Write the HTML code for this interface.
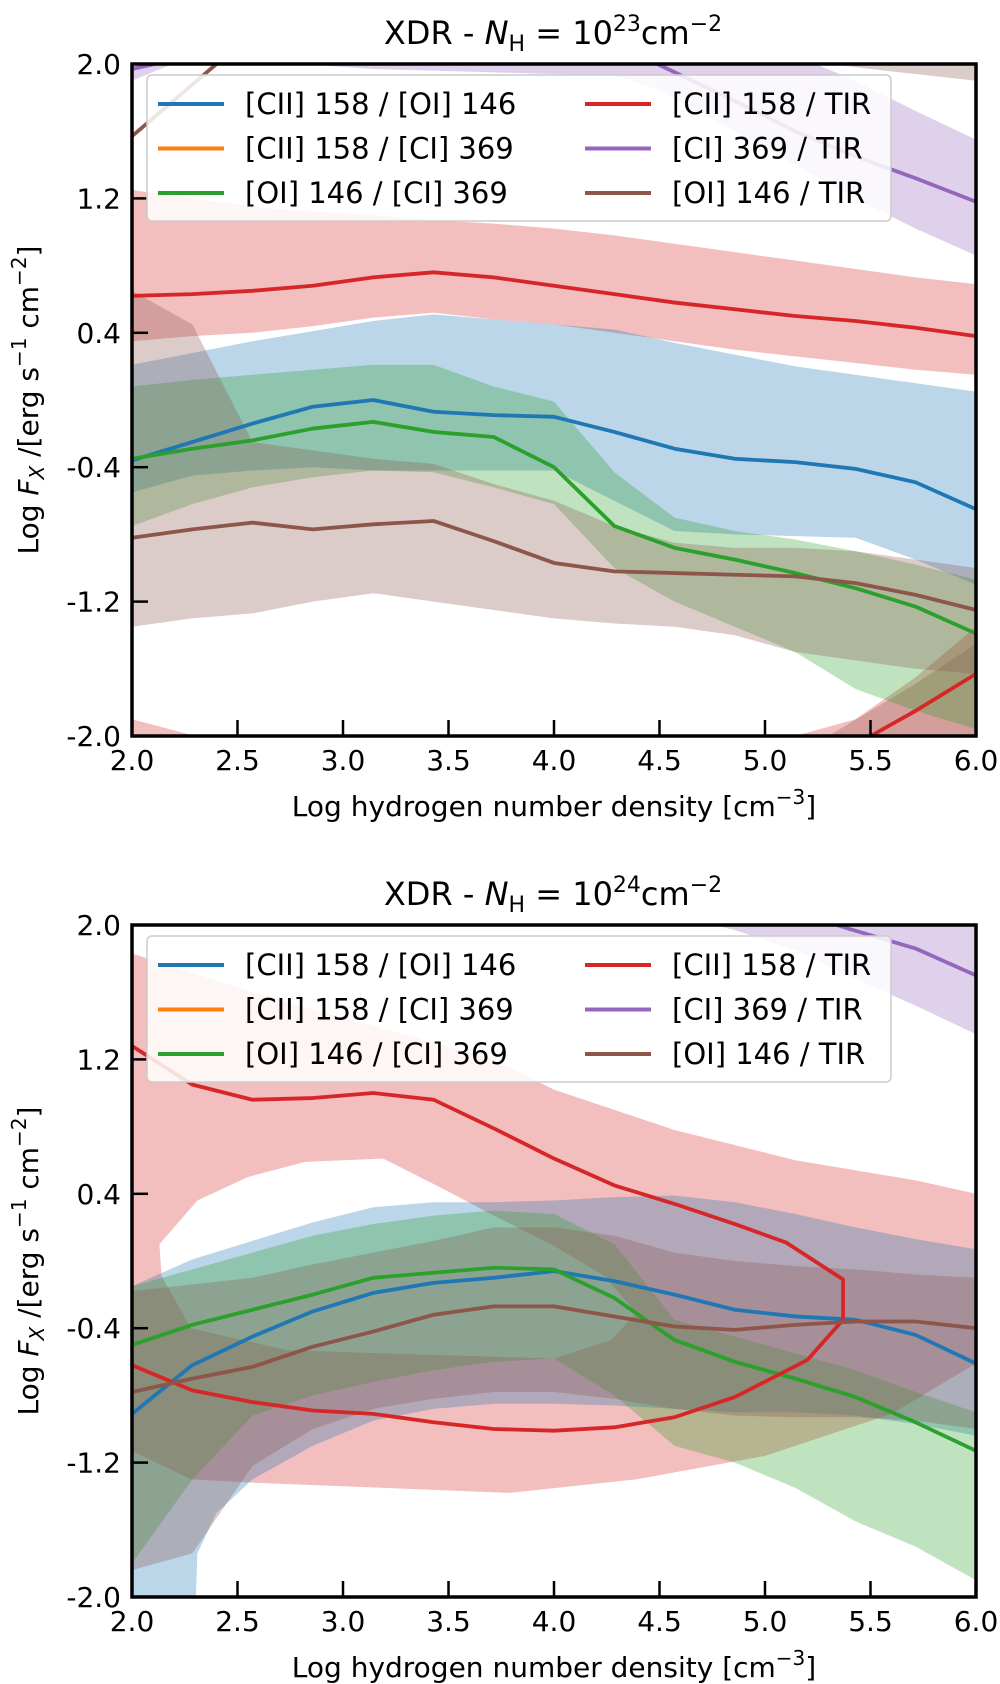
<!DOCTYPE html>
<html><head><meta charset="utf-8">
<style>
body{margin:0;background:#fff;}
svg{display:block;font-family:"DejaVu Sans","Liberation Sans",sans-serif;}
</style></head>
<body>
<svg id="fig" width="1000" height="1684" viewBox="0 0 1000 1684" xmlns="http://www.w3.org/2000/svg"></svg>
<script>
// ---------- shared data ----------
const xGrid = [2.0,2.286,2.571,2.857,3.143,3.429,3.714,4.0,4.286,4.571,4.857,5.143,5.429,5.714,6.0];
const xTicks = [2.0,2.5,3.0,3.5,4.0,4.5,5.0,5.5,6.0];
const xTickLabels = ["2.0","2.5","3.0","3.5","4.0","4.5","5.0","5.5","6.0"];
const yTicks = [2.0,1.2,0.4,-0.4,-1.2,-2.0];
const yTickLabels = ["2.0","1.2","0.4","-0.4","-1.2","-2.0"];

// ---------- panel 1 (N_H = 1e23) ----------
const p1RedLine = [0.62,0.63,0.65,0.68,0.73,0.76,0.73,0.68,0.63,0.58,0.54,0.50,0.47,0.43,0.38];
const p1RedUp   = [1.25,1.20,1.15,1.12,1.10,1.07,1.05,1.02,0.98,0.93,0.88,0.83,0.78,0.73,0.69];
const p1RedLo   = [0.35,0.38,0.40,0.44,0.49,0.52,0.48,0.45,0.40,0.35,0.30,0.26,0.22,0.18,0.15];
const p1BlueLine= [-0.36,-0.25,-0.14,-0.04,0.00,-0.07,-0.09,-0.10,-0.19,-0.29,-0.35,-0.37,-0.41,-0.49,-0.65];
const p1BlueUp  = [0.21,0.28,0.35,0.41,0.47,0.51,0.48,0.45,0.42,0.34,0.27,0.20,0.15,0.10,0.05];
const p1BlueLo  = [-0.55,-0.45,-0.42,-0.40,-0.42,-0.42,-0.42,-0.42,-0.60,-0.78,-0.80,-0.81,-0.82,-0.95,-1.10];
const p1GreenLine=[-0.35,-0.29,-0.24,-0.17,-0.13,-0.19,-0.22,-0.40,-0.75,-0.88,-0.95,-1.03,-1.12,-1.23,-1.39];
const p1GreenUp = [0.08,0.12,0.15,0.18,0.21,0.21,0.08,-0.01,-0.43,-0.70,-0.78,-0.83,-0.90,-0.98,-1.07];
const p1GreenLo = [-0.75,-0.62,-0.52,-0.46,-0.42,-0.43,-0.52,-0.62,-1.00,-1.20,-1.35,-1.50,-1.72,-1.85,-1.96];
const p1BrownLine=[-0.82,-0.77,-0.73,-0.77,-0.74,-0.72,-0.84,-0.97,-1.02,-1.03,-1.04,-1.05,-1.09,-1.16,-1.25];
const p1BrownUp = [0.65,0.45,-0.25,-0.30,-0.35,-0.38,-0.50,-0.60,-0.75,-0.85,-0.88,-0.88,-0.90,-0.95,-1.00];
const p1BrownLo = [-1.35,-1.30,-1.27,-1.20,-1.15,-1.20,-1.25,-1.30,-1.33,-1.35,-1.40,-1.50,-1.55,-1.60,-1.63];
const p1PurpleX = [2.0,2.286,2.571,3.143,3.714,4.286,4.49,4.857,5.143,5.429,5.714,6.0];
const p1PurpleLine=[1.97,2.05,2.2,2.4,2.3,2.1,2.0,1.78,1.60,1.45,1.32,1.18];
const p1PurpleUp= [2.3,2.3,2.3,2.3,2.3,2.3,2.3,2.2,2.05,1.9,1.72,1.55];
const p1PurpleLo= [1.9,2.05,2.02,1.97,1.95,1.93,1.85,1.60,1.40,1.20,1.02,0.86];
const p1Brown2X = [2.0,2.4];
const p1Brown2Line = [1.57,2.0];
const p1Brown2BandX = [5.0,5.5,6.0];
const p1Brown2Up = [2.2,2.1,2.1];
const p1Brown2Lo = [2.05,1.97,1.90];
const p1Red2X   = [5.43,5.714,6.0];
const p1Red2Line= [-2.05,-1.85,-1.63];
const p1Red2BandX=[5.143,5.429,5.714,6.0];
const p1Red2Up  = [-2.0,-1.9,-1.65,-1.35];
const p1Red2Lo  = [-2.1,-2.1,-2.1,-2.1];
const p1RedCornerX=[2.0,2.3];
const p1RedCornerUp=[-1.9,-2.0];
const p1RedCornerLo=[-2.1,-2.1];
const p1BrownCornerX=[5.3,5.7,6.0];
const p1BrownCornerUp=[-2.0,-1.7,-1.45];
const p1BrownCornerLo=[-2.1,-2.1,-2.0];

// ---------- panel 2 (N_H = 1e24) ----------
const p2BlueLine= [-0.91,-0.62,-0.45,-0.30,-0.19,-0.13,-0.10,-0.06,-0.12,-0.20,-0.29,-0.33,-0.35,-0.44,-0.61];
const p2BlueUp  = [-0.15,0.01,0.12,0.23,0.32,0.35,0.35,0.36,0.38,0.39,0.35,0.28,0.20,0.13,0.07];
const p2BlueLoX = [2.0,2.3,2.31,2.4,2.571,2.857,3.143,3.429,3.714,4.0,4.286,4.571,4.857,5.143,5.429,5.714,6.0];
const p2BlueLo  = [-2.1,-2.1,-1.74,-1.5,-1.3,-1.1,-0.95,-0.88,-0.85,-0.85,-0.86,-0.88,-0.9,-0.9,-0.92,-0.97,-1.04];
const p2GreenLine=[-0.50,-0.38,-0.29,-0.20,-0.10,-0.07,-0.04,-0.05,-0.22,-0.47,-0.60,-0.70,-0.81,-0.96,-1.13];
const p2GreenUp = [-0.15,-0.05,0.05,0.15,0.22,0.27,0.30,0.28,0.10,-0.35,-0.45,-0.55,-0.65,-0.78,-0.90];
const p2GreenLo = [-1.80,-1.30,-0.92,-0.80,-0.72,-0.65,-0.60,-0.58,-0.80,-1.10,-1.20,-1.35,-1.55,-1.70,-1.90];
const p2BrownLine=[-0.78,-0.70,-0.63,-0.51,-0.42,-0.32,-0.27,-0.27,-0.33,-0.39,-0.41,-0.38,-0.36,-0.36,-0.40];
const p2BrownUp = [-0.18,-0.14,-0.10,-0.02,0.05,0.12,0.20,0.20,0.15,0.05,0.00,-0.03,-0.05,-0.08,-0.10];
const p2BrownLo = [-1.84,-1.74,-1.22,-1.00,-0.88,-0.82,-0.78,-0.78,-0.82,-0.88,-0.92,-0.93,-0.93,-0.95,-1.00];
const p2RedLoopX = [2.0,2.286,2.571,2.857,3.143,3.429,3.714,4.0,4.286,4.571,4.857,5.1,5.37,5.37,5.2,4.857,4.571,4.286,4.0,3.714,3.429,3.143,2.857,2.571,2.286,2.0];
const p2RedLoopY = [1.28,1.05,0.96,0.97,1.00,0.96,0.79,0.61,0.45,0.34,0.22,0.11,-0.11,-0.35,-0.59,-0.81,-0.93,-0.99,-1.01,-1.00,-0.96,-0.91,-0.89,-0.84,-0.77,-0.62];
const p2RedOuterX = [2.0,2.571,3.143,3.714,4.0,4.571,5.143,5.714,6.0,6.0,5.6,5.0,4.39,3.79,3.18,2.58,2.28,2.0];
const p2RedOuterY = [1.83,1.60,1.40,1.20,1.02,0.78,0.60,0.48,0.40,-0.61,-0.91,-1.16,-1.30,-1.38,-1.35,-1.32,-1.30,-1.13];
const p2RedHoleX = [2.13,2.31,2.55,2.82,3.19,3.49,3.70,4.0,4.24,4.39,4.27,4.0,3.19,2.73,2.28,2.14];
const p2RedHoleY = [0.10,0.36,0.50,0.59,0.61,0.42,0.28,0.09,-0.09,-0.31,-0.47,-0.58,-0.55,-0.53,-0.40,-0.09];
const p2PurpleX = [4.6,4.857,5.143,5.39,5.714,6.0];
const p2PurpleLine=[2.3,2.2,2.08,1.98,1.86,1.70];
const p2PurpleUp= [2.3,2.3,2.3,2.3,2.3,2.3];
const p2PurpleLo= [2.05,1.97,1.85,1.70,1.52,1.35];

const C = {blue:"#1f77b4",orange:"#ff7f0e",green:"#2ca02c",red:"#d62728",purple:"#9467bd",brown:"#8c564b"};
const NS="http://www.w3.org/2000/svg";
const svg=document.getElementById('fig');
function mk(tag,parent){const e=document.createElementNS(NS,tag);parent.appendChild(e);return e;}

function panel(opts){
  const L=132,R=976,T=opts.top,B=opts.top+672;
  const sx=v=>L+(v-2)/4*(R-L);
  const sy=v=>T+(2-v)/4*(B-T);
  const g=mk('g',svg);
  
  
  const cid='clip'+opts.name;
  const cp=mk('clipPath',g);cp.setAttribute('id',cid);
  const cr=mk('rect',cp);cr.setAttribute('x',L);cr.setAttribute('y',T);cr.setAttribute('width',R-L);cr.setAttribute('height',B-T);
  const plot=mk('g',g);plot.setAttribute('clip-path','url(#'+cid+')');
  
  
  function band(xs,up,lo,color,name,xsLo){
    const xl=xsLo||xs;
    let d='M'+xs.map((x,i)=>sx(x)+','+sy(up[i])).join('L');
    for(let i=xl.length-1;i>=0;i--) d+='L'+sx(xl[i])+','+sy(lo[i]);
    const p=mk('path',plot);p.setAttribute('d',d+'Z');p.setAttribute('fill',color);p.setAttribute('fill-opacity','0.3');
    
    
  }
  function poly(xs,ys,color,name){
    const p=mk('path',plot);
    p.setAttribute('d','M'+xs.map((x,i)=>sx(x)+','+sy(ys[i])).join('L'));
    p.setAttribute('fill','none');p.setAttribute('stroke',color);p.setAttribute('stroke-width','3.8');p.setAttribute('stroke-linejoin','round');
    
    
  }
  opts.draw(band,poly,sx,sy,plot);
  const fr=mk('rect',g);fr.setAttribute('x',L);fr.setAttribute('y',T);fr.setAttribute('width',R-L);fr.setAttribute('height',B-T);
  fr.setAttribute('fill','none');fr.setAttribute('stroke','#000');fr.setAttribute('stroke-width','3.5');
  
  
  xTicks.forEach((v,i)=>{
    const t=mk('line',g);t.setAttribute('x1',sx(v));t.setAttribute('x2',sx(v));t.setAttribute('y1',B);t.setAttribute('y2',B-16);
    t.setAttribute('stroke','#000');t.setAttribute('stroke-width','2.5');
    
    
    const tx=mk('text',g);tx.setAttribute('x',sx(v));tx.setAttribute('y',B+34);tx.setAttribute('text-anchor','middle');tx.setAttribute('font-size','28');
    tx.textContent=xTickLabels[i];
    
    
  });
  yTicks.forEach((v,i)=>{
    const t=mk('line',g);t.setAttribute('x1',L);t.setAttribute('x2',L+16);t.setAttribute('y1',sy(v));t.setAttribute('y2',sy(v));
    t.setAttribute('stroke','#000');t.setAttribute('stroke-width','2.5');
    
    
    const tx=mk('text',g);tx.setAttribute('x',L-11);tx.setAttribute('y',sy(v)+10);tx.setAttribute('text-anchor','end');tx.setAttribute('font-size','28');
    tx.textContent=yTickLabels[i];
    
    
  });
  const ti=mk('text',g);ti.setAttribute('x',553);ti.setAttribute('y',T-20);ti.setAttribute('text-anchor','middle');ti.setAttribute('font-size','32');
  ti.innerHTML='XDR -  <tspan font-style="italic">N</tspan><tspan font-size="22" dy="7">H</tspan><tspan dy="-7"> = 10</tspan><tspan font-size="22" dy="-13">'+opts.exp+'</tspan><tspan dy="13">cm</tspan><tspan font-size="22" dy="-13">−2</tspan>';
  
  
  const xl=mk('text',g);xl.setAttribute('x',554);xl.setAttribute('y',B+80);xl.setAttribute('text-anchor','middle');xl.setAttribute('font-size','28');
  xl.innerHTML='Log hydrogen number density [cm<tspan font-size="20" dy="-12">−3</tspan><tspan dy="12">]</tspan>';
  
  
  const yl=mk('text',g);yl.setAttribute('transform','translate(38,'+(T+336)+') rotate(-90)');yl.setAttribute('text-anchor','middle');yl.setAttribute('font-size','28');
  yl.innerHTML='Log <tspan font-style="italic">F</tspan><tspan font-size="20" font-style="italic" dy="6">X</tspan><tspan dy="-6"> /[erg s</tspan><tspan font-size="20" dy="-12">−1</tspan><tspan dy="12"> cm</tspan><tspan font-size="20" dy="-12">−2</tspan><tspan dy="12">]</tspan>';
  
  
  const lg=mk('g',g);
  
  
  const ly=T+11;
  const lb=mk('rect',lg);lb.setAttribute('x',147);lb.setAttribute('y',ly);lb.setAttribute('width',744);lb.setAttribute('height',146);lb.setAttribute('rx','5');
  lb.setAttribute('fill','#fff');lb.setAttribute('fill-opacity','0.85');lb.setAttribute('stroke','#ccc');lb.setAttribute('stroke-width','1.5');
  const entries=[["[CII] 158 / [OI] 146",C.blue,0,0],["[CII] 158 / [CI] 369",C.orange,0,1],["[OI] 146 / [CI] 369",C.green,0,2],
                 ["[CII] 158 / TIR",C.red,1,0],["[CI] 369 / TIR",C.purple,1,1],["[OI] 146 / TIR",C.brown,1,2]];
  entries.forEach(e=>{
    const x0=e[2]?585:158, yy=ly+29+e[3]*44.5;
    const ent=mk('g',lg);
    
    
    const ln=mk('line',ent);ln.setAttribute('x1',x0);ln.setAttribute('x2',x0+66);ln.setAttribute('y1',yy);ln.setAttribute('y2',yy);ln.setAttribute('stroke',e[1]);ln.setAttribute('stroke-width','4');
    const tx=mk('text',ent);tx.setAttribute('x',x0+87);tx.setAttribute('y',yy+10);tx.setAttribute('font-size','29');tx.textContent=e[0];
  });
}

panel({name:'panel-nh23',top:64,exp:'23',draw:(band,poly,sx,sy,plot)=>{
  band(xGrid,p1RedUp,p1RedLo,C.red,'band-cii-tir');
  band(p1RedCornerX,p1RedCornerUp,p1RedCornerLo,C.red,'band-cii-tir-low');
  band(p1Red2BandX,p1Red2Up,p1Red2Lo,C.red,'band-cii-tir-2');
  band(p1PurpleX,p1PurpleUp,p1PurpleLo,C.purple,'band-ci-tir');
  band(p1Brown2BandX,p1Brown2Up,p1Brown2Lo,C.brown,'band-oi-tir-2');
  band(p1BrownCornerX,p1BrownCornerUp,p1BrownCornerLo,C.brown,'band-oi-tir-3');
  band(xGrid,p1BlueUp,p1BlueLo,C.blue,'band-cii-oi');
  band(xGrid,p1GreenUp,p1GreenLo,C.green,'band-oi-ci');
  band(xGrid,p1BrownUp,p1BrownLo,C.brown,'band-oi-tir');
  poly(xGrid,p1BlueLine,C.blue,'line-cii-oi');
  poly(xGrid,p1GreenLine,C.green,'line-oi-ci');
  poly(xGrid,p1RedLine,C.red,'line-cii-tir');
  poly(p1Red2X,p1Red2Line,C.red,'line-cii-tir-2');
  poly(p1PurpleX,p1PurpleLine,C.purple,'line-ci-tir');
  poly(xGrid,p1BrownLine,C.brown,'line-oi-tir');
  poly(p1Brown2X,p1Brown2Line,C.brown,'line-oi-tir-2');
}});

panel({name:'panel-nh24',top:925,exp:'24',draw:(band,poly,sx,sy,plot)=>{
  let d='M'+p2RedOuterX.map((x,i)=>sx(x)+','+sy(p2RedOuterY[i])).join('L')+'Z';
  d+='M'+p2RedHoleX.map((x,i)=>sx(x)+','+sy(p2RedHoleY[i])).join('L')+'Z';
  const p=document.createElementNS(NS,'path');plot.appendChild(p);
  p.setAttribute('d',d);p.setAttribute('fill',C.red);p.setAttribute('fill-opacity','0.3');p.setAttribute('fill-rule','evenodd');
  
  
  band(p2PurpleX,p2PurpleUp,p2PurpleLo,C.purple,'band-ci-tir');
  band(xGrid,p2BlueUp,p2BlueLo,C.blue,'band-cii-oi',p2BlueLoX);
  band(xGrid,p2GreenUp,p2GreenLo,C.green,'band-oi-ci');
  band(xGrid,p2BrownUp,p2BrownLo,C.brown,'band-oi-tir');
  poly(xGrid,p2BlueLine,C.blue,'line-cii-oi');
  poly(xGrid,p2GreenLine,C.green,'line-oi-ci');
  poly(p2RedLoopX,p2RedLoopY,C.red,'line-cii-tir');
  poly(p2PurpleX,p2PurpleLine,C.purple,'line-ci-tir');
  poly(xGrid,p2BrownLine,C.brown,'line-oi-tir');
}});
</script>
</body></html>
